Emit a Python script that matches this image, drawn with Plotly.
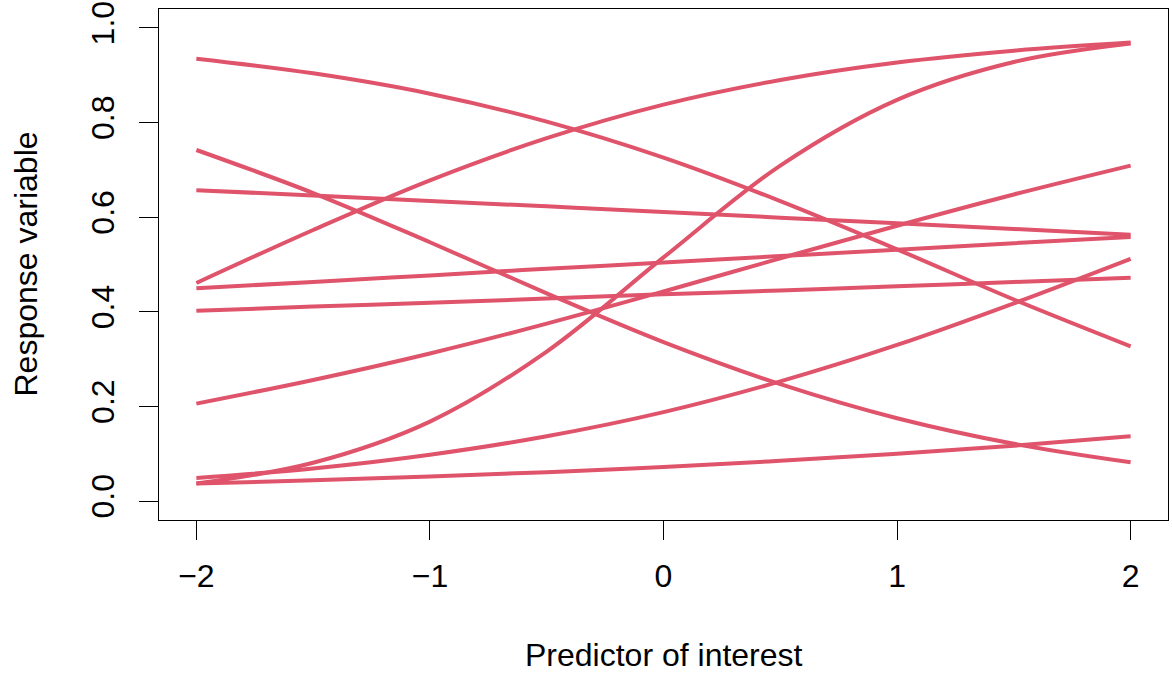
import plotly.graph_objects as go

x_vals = [-2.0, -1.5, -1.0, -0.5, 0.0, 0.5, 1.0, 1.5, 2.0]

curve_1 = [0.935, 0.904, 0.861, 0.802, 0.726, 0.634, 0.532, 0.426, 0.327]
curve_2 = [0.742, 0.651, 0.547, 0.439, 0.336, 0.247, 0.175, 0.121, 0.082]
curve_3 = [0.657, 0.646, 0.634, 0.623, 0.611, 0.599, 0.587, 0.575, 0.563]
curve_4 = [0.461, 0.573, 0.678, 0.767, 0.838, 0.890, 0.927, 0.952, 0.969]
curve_5 = [0.450, 0.463, 0.477, 0.491, 0.504, 0.518, 0.531, 0.545, 0.558]
curve_6 = [0.402, 0.411, 0.419, 0.428, 0.437, 0.445, 0.454, 0.463, 0.472]
curve_7 = [0.206, 0.256, 0.312, 0.375, 0.443, 0.513, 0.582, 0.648, 0.709]
curve_8 = [0.049, 0.069, 0.098, 0.137, 0.188, 0.253, 0.330, 0.418, 0.512]
curve_9 = [0.037, 0.081, 0.168, 0.316, 0.515, 0.709, 0.848, 0.928, 0.967]
curve_10 = [0.037, 0.044, 0.052, 0.061, 0.072, 0.085, 0.100, 0.117, 0.137]

curves = [curve_1, curve_2, curve_3, curve_4, curve_5,
          curve_6, curve_7, curve_8, curve_9, curve_10]

x_ticks = [-2, -1, 0, 1, 2]
x_tick_labels = ["\u22122", "\u22121", "0", "1", "2"]
y_ticks = [0.0, 0.2, 0.4, 0.6, 0.8, 1.0]
y_tick_labels = ["0.0", "0.2", "0.4", "0.6", "0.8", "1.0"]

LINE_COLOR = "#DF536B"
FONT = "Liberation Sans, Arial, Helvetica, sans-serif"
FS = 32

fig = go.Figure()
for c in curves:
    fig.add_trace(go.Scatter(
        x=x_vals, y=c, mode="lines",
        line=dict(color=LINE_COLOR, width=4, shape="spline", smoothing=1.0),
        showlegend=False, hoverinfo="skip",
    ))

axis_common = dict(
    showline=True, linecolor="black", linewidth=1.4, mirror=True,
    ticks="outside", ticklen=19, tickwidth=1.4, tickcolor="black",
    showgrid=False, zeroline=False, ticklabeloverflow="allow",
    automargin=False,
    tickfont=dict(family=FONT, size=FS, color="black"),
)

fig.update_layout(
    width=1172, height=677,
    margin=dict(l=159, r=4, t=9, b=157, autoexpand=False),
    paper_bgcolor="white", plot_bgcolor="white",
    font=dict(family=FONT, size=FS, color="black"),
    xaxis=dict(
        range=[-2.16, 2.16], tickmode="array",
        tickvals=x_ticks, ticktext=x_tick_labels,
        ticklabelstandoff=8,
        **axis_common,
    ),
    yaxis=dict(
        range=[-0.04, 1.04], tickmode="array",
        tickvals=y_ticks, ticktext=y_tick_labels,
        tickangle=-90, ticklabelstandoff=12,
        **axis_common,
    ),
    annotations=[
        dict(text="Predictor of interest", xref="paper", yref="paper",
             x=0.5, y=0, yshift=-135, xanchor="center", yanchor="middle",
             showarrow=False, font=dict(family=FONT, size=FS, color="black")),
        dict(text="Response variable", xref="paper", yref="paper",
             x=0, y=0.5, xshift=-134, xanchor="center", yanchor="middle",
             textangle=-90,
             showarrow=False, font=dict(family=FONT, size=FS, color="black")),
    ],
)

fig.write_html(
    "out.html",
    config={"displayModeBar": False},
    post_script="document.body.style.margin='0px';document.body.style.overflow='hidden';",
)
